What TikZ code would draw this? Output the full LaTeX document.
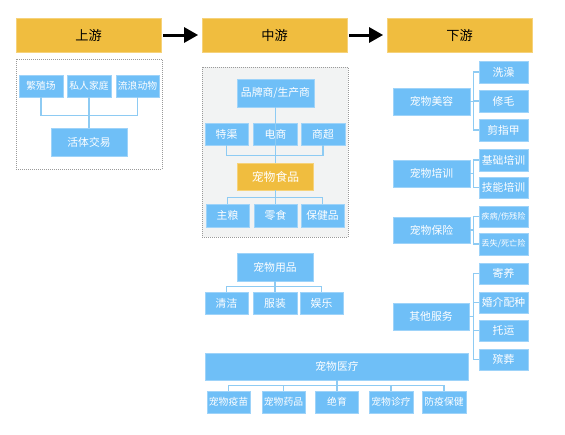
\documentclass[tikz,border=0pt]{standalone}
\usepackage{fontspec}
\setmainfont{Noto Sans CJK SC}
\usetikzlibrary{arrows.meta}
\definecolor{bfill}{HTML}{6FBFF7}
\definecolor{bedge}{HTML}{9ED3F9}
\definecolor{lnc}{HTML}{8ECBF3}
\definecolor{yel}{HTML}{F0BD3F}
\definecolor{yedge}{HTML}{F6D27A}
\definecolor{frgray}{HTML}{F2F3F3}
\definecolor{dotc}{HTML}{9A9A9A}
\tikzset{
  bb/.style={rectangle, fill=bfill, draw=bedge, line width=0.8pt, text=white, inner sep=0pt, font=\fontsize{10.8}{12}\selectfont},
  sm/.style={font=\fontsize{9.8}{11}\selectfont},
  tiny/.style={font=\fontsize{8.2}{9}\selectfont},
  hdr/.style={rectangle, fill=yel, draw=yedge, line width=0.8pt, text=black, inner sep=0pt, minimum width=145pt, minimum height=34pt, font=\fontsize{13.2}{14}\selectfont},
  yb/.style={rectangle, fill=yel, draw=yedge, line width=0.8pt, text=white, inner sep=0pt, font=\fontsize{11.8}{13}\selectfont},
  frame/.style={rectangle, draw=dotc, line width=0.7pt, dash pattern=on 1pt off 1pt, inner sep=0pt},
  ln/.style={draw=lnc, line width=1.2pt},
  arr/.style={draw=black, line width=3pt, -{Triangle[length=14pt,width=15pt]}, shorten <=2pt, shorten >=3.5pt}
}
\begin{document}
\begin{tikzpicture}[x=1pt,y=-1pt]
\useasboundingbox (0,0) rectangle (565,434);
% headers
\node[hdr] (up) at (88.5,35) {上游};
\node[hdr] (mid) at (274.5,35) {中游};
\node[hdr] (down) at (459.5,35) {下游};
\draw[arr] (up) -- (mid);
\draw[arr] (mid) -- (down);
% upstream
\node[frame, fill=white, minimum width=146pt, minimum height=110pt] (fr1) at (89,114) {};
\node[bb, sm, minimum width=44pt, minimum height=22pt] (a1) at (41,86) {繁殖场};
\node[bb, sm, minimum width=44pt, minimum height=22pt] (a2) at (89,86) {私人家庭};
\node[bb, sm, minimum width=43pt, minimum height=22pt] (a3) at (137.5,86) {流浪动物};
\node[bb, minimum width=76pt, minimum height=28pt] (a4) at (89,142) {活体交易};
\draw[ln] (a1.south) -- ++(0,18) -| (a3.south);
\draw[ln] (a2.south) -- (a4.north);
% midstream
\node[frame, fill=frgray, minimum width=146pt, minimum height=170pt] (fr2) at (275,152) {};
\node[bb, minimum width=77pt, minimum height=28pt] (b0) at (275.5,93) {品牌商/生产商};
\node[bb, minimum width=43pt, minimum height=22pt] (b1) at (226.5,134) {特渠};
\node[bb, minimum width=44pt, minimum height=22pt] (b2) at (275.5,134) {电商};
\node[bb, minimum width=44pt, minimum height=22pt] (b3) at (323,134) {商超};
\node[yb, minimum width=76pt, minimum height=27pt] (b4) at (275.5,176.5) {宠物食品};
\node[bb, minimum width=43pt, minimum height=23pt] (b5) at (227.5,215.5) {主粮};
\node[bb, minimum width=43pt, minimum height=23pt] (b6) at (275.5,215.5) {零食};
\node[bb, minimum width=43pt, minimum height=23pt] (b7) at (322.5,215.5) {保健品};
\draw[ln] (b0.south) -- (b4.north);
\draw[ln] (b1.south) -- ++(0,10) -| (b3.south);
\draw[ln] (b4.south) -- (b6.north);
\draw[ln] (b5.north) -- ++(0,-6) -| (b7.north);
% supplies
\node[bb, minimum width=76pt, minimum height=28pt] (c0) at (275,267) {宠物用品};
\node[bb, minimum width=43pt, minimum height=22pt] (c1) at (226.5,303) {清洁};
\node[bb, minimum width=44pt, minimum height=22pt] (c2) at (275,303) {服装};
\node[bb, minimum width=43pt, minimum height=22pt] (c3) at (321.5,303) {娱乐};
\draw[ln] (c0.south) -- (c2.north);
\draw[ln] (c1.north) -- ++(0,-5) -| (c3.north);
% medical
\node[bb, minimum width=263pt, minimum height=27pt] (d0) at (337,366.5) {宠物医疗};
\node[bb, sm, minimum width=43pt, minimum height=22pt] (d1) at (228.5,402) {宠物疫苗};
\node[bb, sm, minimum width=43pt, minimum height=22pt] (d2) at (283.5,402) {宠物药品};
\node[bb, sm, minimum width=43pt, minimum height=22pt] (d3) at (337,402) {绝育};
\node[bb, sm, minimum width=44pt, minimum height=22pt] (d4) at (391,402) {宠物诊疗};
\node[bb, sm, minimum width=44pt, minimum height=22pt] (d5) at (444,402) {防疫保健};
\draw[ln] (d0.south) -- (d3.north);
\draw[ln] (d1.north) -- ++(0,-5) -| (d5.north);
\draw[ln] (d2.north) -- ++(0,-5);
\draw[ln] (d4.north) -- ++(0,-5);
% downstream
\node[bb, minimum width=77pt, minimum height=27pt] (e0) at (431.5,101.5) {宠物美容};
\node[bb, minimum width=49pt, minimum height=22pt] (e1) at (503.5,72) {洗澡};
\node[bb, minimum width=49pt, minimum height=22pt] (e2) at (503.5,101) {修毛};
\node[bb, minimum width=49pt, minimum height=22pt] (e3) at (503.5,130) {剪指甲};
\draw[ln] (e0.east) -- ++(4,0);
\draw[ln] (e1.west) -- ++(-5,0) |- (e3.west);
\draw[ln] (e2.west) -- ++(-5,0);
\node[bb, minimum width=77pt, minimum height=27pt] (f0) at (431.5,173.5) {宠物培训};
\node[bb, minimum width=49pt, minimum height=22pt] (f1) at (503.5,160) {基础培训};
\node[bb, minimum width=49pt, minimum height=21pt] (f2) at (503.5,187.5) {技能培训};
\draw[ln] (f0.east) -- ++(4,0);
\draw[ln] (f1.west) -- ++(-5,0) |- (f2.west);
\node[bb, minimum width=77pt, minimum height=26pt] (g0) at (431.5,230) {宠物保险};
\node[bb, tiny, minimum width=49pt, minimum height=21pt] (g1) at (503.5,216.5) {疾病/伤残险};
\node[bb, tiny, minimum width=49pt, minimum height=22pt] (g2) at (503.5,244) {丢失/死亡险};
\draw[ln] (g0.east) -- ++(4,0);
\draw[ln] (g1.west) -- ++(-5,0) |- (g2.west);
\node[bb, minimum width=76pt, minimum height=27pt] (h0) at (431,316.5) {其他服务};
\node[bb, minimum width=49pt, minimum height=21pt] (h1) at (503.5,273.5) {寄养};
\node[bb, minimum width=49pt, minimum height=21pt] (h2) at (503.5,302.5) {婚介配种};
\node[bb, minimum width=49pt, minimum height=21pt] (h3) at (503.5,330.5) {托运};
\node[bb, minimum width=49pt, minimum height=21pt] (h4) at (503.5,359.5) {殡葬};
\draw[ln] (h0.east) -- ++(4.5,0);
\draw[ln] (h1.west) -- ++(-5,0) |- (h4.west);
\draw[ln] (h2.west) -- ++(-5,0);
\draw[ln] (h3.west) -- ++(-5,0);
\end{tikzpicture}
\end{document}
